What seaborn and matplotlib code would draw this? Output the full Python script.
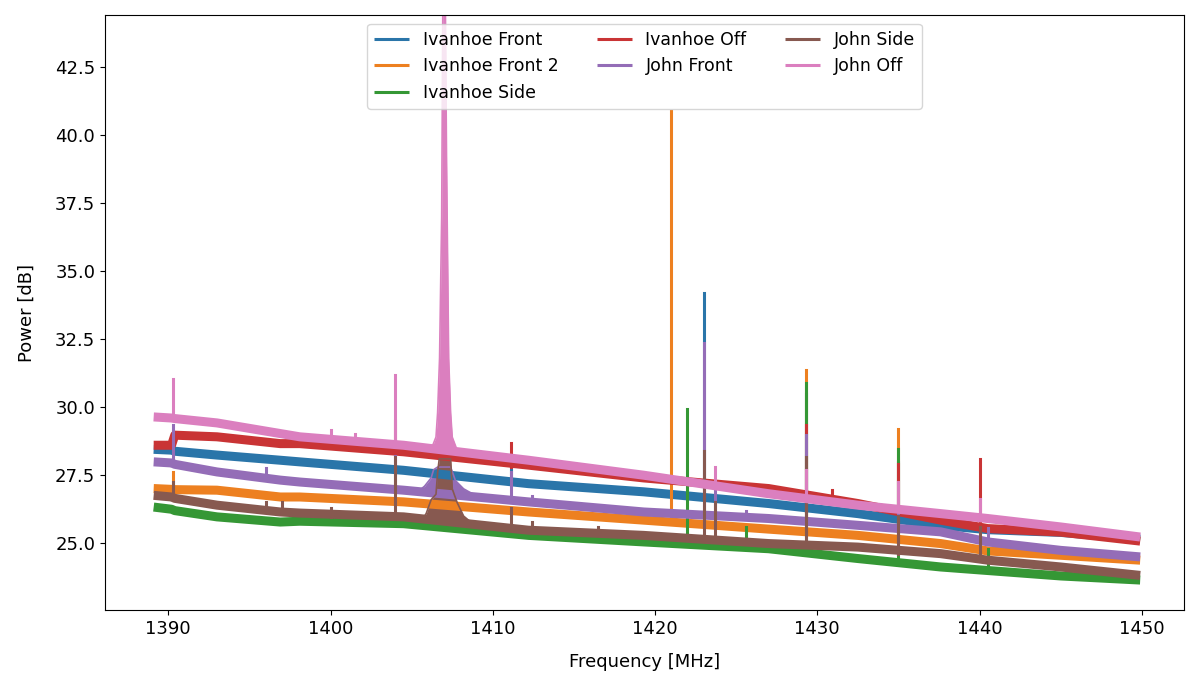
import matplotlib
matplotlib.use("Agg")
import matplotlib.pyplot as plt
import numpy as np
import pandas as pd
import seaborn as sns

# ---- spectra: smoothed continuum levels (MHz, dB) ----
series_names = ["Ivanhoe Front", "Ivanhoe Front 2", "Ivanhoe Side",
                "Ivanhoe Off", "John Front", "John Side", "John Off"]

base_freq = [1389.1, 1390.2, 1390.4, 1393.0, 1396.9, 1398.1, 1404.5, 1412.2,
             1419.3, 1427.0, 1432.5, 1437.6, 1440.5, 1445.0, 1449.9]

ivanhoe_front = [28.45, 28.42, 28.38, 28.24, 28.05, 27.99, 27.68, 27.19,
                 26.89, 26.46, 26.09, 25.66, 25.50, 25.40, 25.15]
ivanhoe_front2 = [27.01, 26.98, 26.97, 26.95, 26.70, 26.70, 26.52, 26.15,
                  25.85, 25.52, 25.29, 24.99, 24.72, 24.56, 24.38]
ivanhoe_side = [26.33, 26.25, 26.20, 25.97, 25.78, 25.81, 25.72, 25.29,
                25.05, 24.80, 24.44, 24.13, 24.00, 23.80, 23.65]
ivanhoe_off = [28.60, 28.60, 28.97, 28.91, 28.66, 28.66, 28.36, 27.87,
               27.40, 27.01, 26.46, 25.85, 25.54, 25.41, 25.08]
john_front = [27.99, 27.95, 27.90, 27.62, 27.32, 27.25, 26.95, 26.52,
              26.15, 25.91, 25.66, 25.42, 25.05, 24.74, 24.50]
john_side = [26.76, 26.70, 26.65, 26.40, 26.15, 26.11, 25.97, 25.48,
             25.29, 24.99, 24.86, 24.62, 24.38, 24.13, 23.82]
john_off = [29.64, 29.60, 29.58, 29.42, 29.03, 28.91, 28.60, 28.05,
            27.50, 26.82, 26.40, 26.09, 25.91, 25.60, 25.23]

# ---- narrow RFI spikes: (frequency, floor, peak) ----
ivanhoe_front_spikes = [(1390.3, 28.40, 29.00), (1411.1, 27.20, 28.00),
                        (1423.0, 26.70, 34.20), (1429.3, 26.20, 30.50),
                        (1435.0, 25.80, 28.00)]
ivanhoe_front2_spikes = [(1390.3, 26.97, 27.62), (1421.0, 25.85, 40.86),
                         (1429.3, 25.40, 31.38), (1435.0, 25.10, 29.21)]
ivanhoe_side_spikes = [(1422.0, 25.00, 29.93), (1425.6, 24.85, 25.60),
                       (1429.3, 24.60, 30.88), (1435.0, 24.30, 28.48),
                       (1440.5, 24.00, 24.80)]
ivanhoe_off_spikes = [(1404.0, 28.40, 29.50), (1411.1, 27.80, 28.68),
                      (1429.3, 26.60, 29.34), (1430.9, 26.50, 26.95),
                      (1435.0, 26.10, 27.90), (1440.0, 25.60, 28.08)]
john_front_spikes = [(1390.3, 28.00, 29.34), (1396.0, 27.40, 27.75),
                     (1404.0, 26.95, 28.20), (1411.1, 26.50, 27.60),
                     (1412.4, 26.50, 26.75), (1423.0, 26.00, 32.35),
                     (1423.7, 25.95, 26.95), (1425.6, 25.90, 26.20),
                     (1429.3, 25.80, 28.97), (1435.0, 25.40, 26.10),
                     (1440.5, 25.00, 25.55)]
john_side_spikes = [(1390.3, 26.70, 27.25), (1396.0, 26.15, 26.50),
                    (1397.0, 26.10, 26.50), (1400.0, 25.95, 26.30),
                    (1404.0, 25.97, 28.17), (1411.1, 25.50, 26.30),
                    (1412.4, 25.45, 25.78), (1416.5, 25.30, 25.60),
                    (1423.0, 25.10, 28.38), (1423.7, 25.10, 26.50),
                    (1429.3, 24.90, 28.17), (1435.0, 24.60, 26.00),
                    (1440.0, 24.40, 25.60)]
john_off_spikes = [(1390.3, 29.60, 31.05), (1400.0, 28.80, 29.15),
                   (1401.5, 28.75, 29.00), (1404.0, 28.60, 31.17),
                   (1423.7, 27.20, 27.80), (1429.3, 26.55, 27.68),
                   (1435.0, 26.25, 27.25), (1440.0, 25.95, 26.64)]

# ---- broad emission around 1407 MHz ----
john_off_peak_freq = [1406.3, 1406.5, 1406.6, 1406.72, 1406.85, 1406.92,
                      1407.08, 1407.15, 1407.28, 1407.4, 1407.5, 1407.75]
john_off_peak_power = [28.60, 28.90, 29.80, 31.80, 37.00, 44.60,
                       44.60, 39.00, 31.80, 29.80, 28.90, 28.50]
john_front_hump_freq = [1405.3, 1405.8, 1406.2, 1406.35, 1406.6, 1407.4,
                        1407.7, 1408.2, 1408.8]
john_front_hump_power = [26.85, 27.10, 27.40, 27.70, 27.80, 27.80,
                         27.30, 27.00, 26.80]
john_side_hump_freq = [1405.6, 1405.9, 1406.2, 1406.5, 1406.6, 1406.7,
                       1407.4, 1407.5, 1407.8, 1408.2, 1408.6]
john_side_hump_power = [25.80, 26.10, 26.60, 26.80, 27.60, 28.10,
                        28.10, 27.00, 26.50, 26.00, 25.80]

levels = [ivanhoe_front, ivanhoe_front2, ivanhoe_side, ivanhoe_off,
          john_front, john_side, john_off]
spikes = [ivanhoe_front_spikes, ivanhoe_front2_spikes, ivanhoe_side_spikes,
          ivanhoe_off_spikes, john_front_spikes, john_side_spikes,
          john_off_spikes]
humps = {4: (john_front_hump_freq, john_front_hump_power),
         5: (john_side_hump_freq, john_side_hump_power),
         6: (john_off_peak_freq, john_off_peak_power)}

colors = sns.color_palette("tab10", 7, desat=0.85)

fig = plt.figure(figsize=(11.86, 6.79), dpi=100)
ax = fig.add_axes([105 / 1186, 1 - 610 / 679, 1079 / 1186, 595 / 679])

handles = []
for i, (name, lev, spk) in enumerate(zip(series_names, levels, spikes)):
    c = colors[i]
    sns.lineplot(x=base_freq, y=lev, color=c, lw=6.5, errorbar=None,
                 solid_capstyle="butt", ax=ax)
    line = ax.lines[-1]
    line.set_label(name)
    handles.append(line)

    if i in humps:
        hf, hp = humps[i]
        ax.fill_between(hf, min(hp), hp, color=c, lw=0)
        sns.lineplot(x=hf, y=hp, color=c, lw=1.2, errorbar=None, ax=ax)

    rows = []
    for k, (f, lo, hi) in enumerate(spk):
        rows.append({"spike": k, "freq": f, "power": lo})
        rows.append({"spike": k, "freq": f, "power": hi})
    sdf = pd.DataFrame(rows)
    sns.lineplot(data=sdf, x="freq", y="power", units="spike",
                 estimator=None, color=c, lw=2.2, ax=ax, legend=False)

ax.set_xlim(1386.1, 1452.6)
ax.set_ylim(22.55, 44.4)
ax.set_yticks([25.0, 27.5, 30.0, 32.5, 35.0, 37.5, 40.0, 42.5])
ax.set_xticks([1390, 1400, 1410, 1420, 1430, 1440, 1450])
ax.tick_params(labelsize=13)
ax.set_xlabel("Frequency [MHz]", fontsize=13, labelpad=11)
ax.set_ylabel("Power [dB]", fontsize=13, labelpad=14)

leg = ax.legend(handles=handles, loc="upper center", ncol=3, fontsize=12.5,
                columnspacing=2.2)
for h in leg.get_lines():
    h.set_linewidth(2.2)

fig.savefig("out.png", dpi=100)
